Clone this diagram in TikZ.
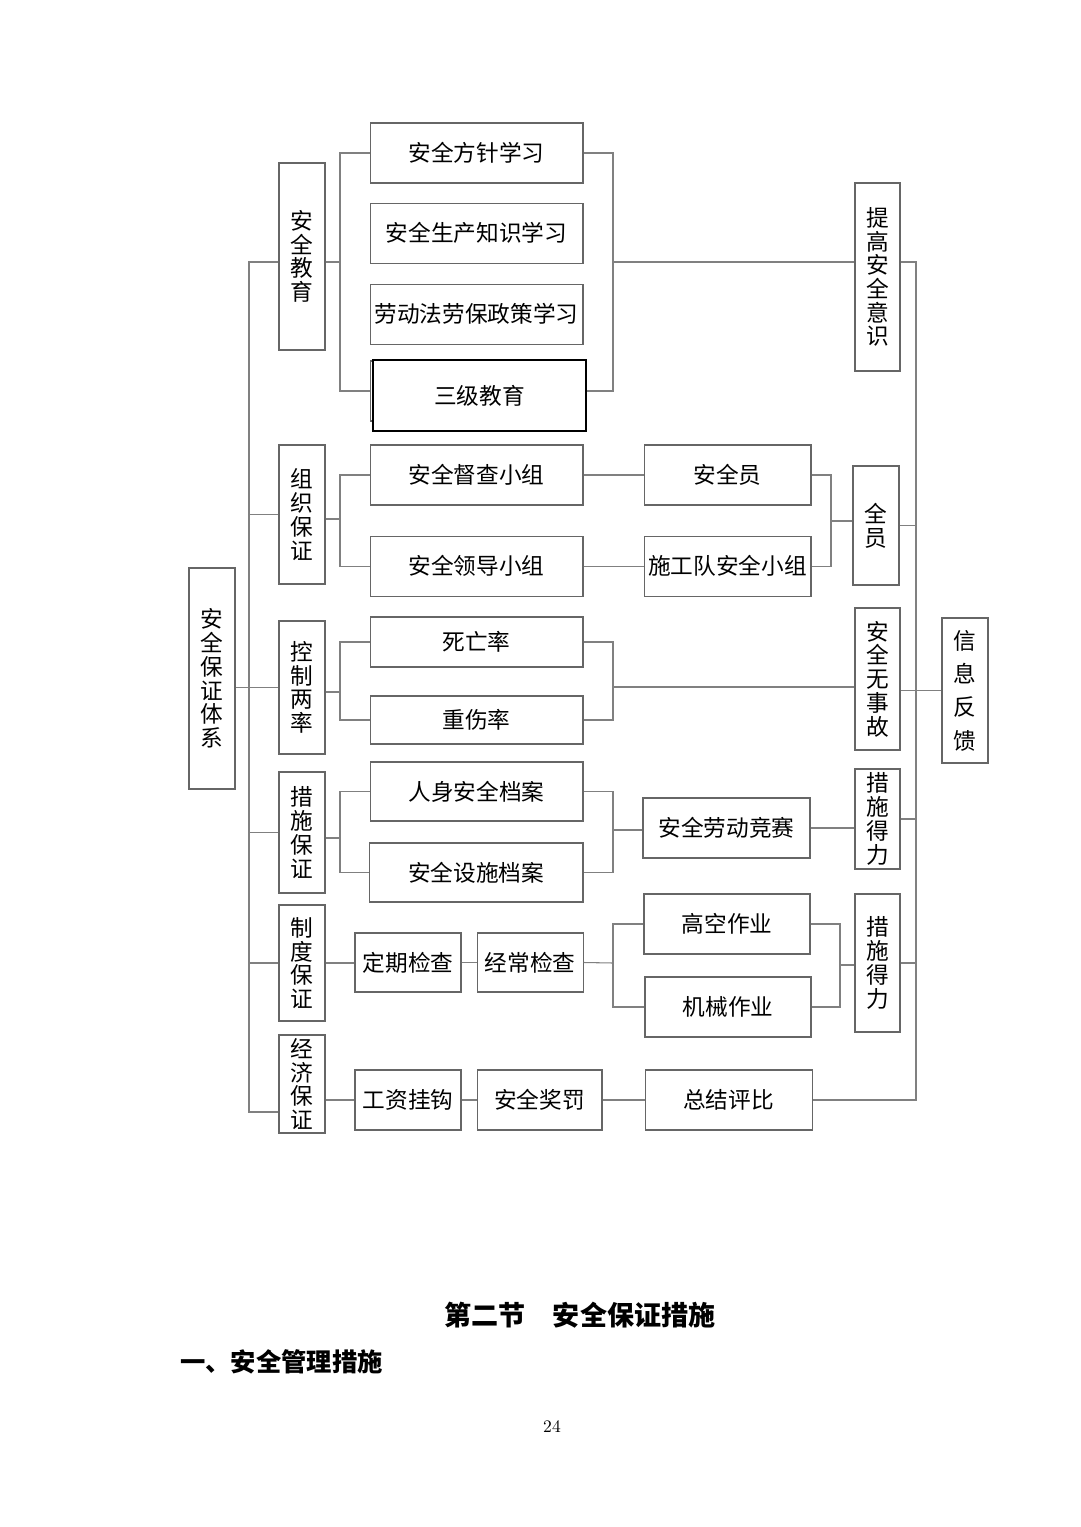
\documentclass[tikz,border=0pt]{standalone}
\usepackage{fontspec}
\newfontfamily\cjk{Noto Sans CJK SC}
\usepackage{tikz}
\usetikzlibrary{positioning, calc}
\tikzset{
  hbox/.style={rectangle, draw=black!60, line width=0.6pt, inner sep=0pt, minimum width=4.26cm, minimum height=1.2cm, text centered, font=\cjk\fontsize{12.9pt}{13.5pt}\selectfont},
  vbox/.style={hbox, minimum width=0.92cm, align=center},
  thickbox/.style={hbox, draw=black, line width=1.2pt, fill=white},
  link/.style={draw=black!50, line width=0.6pt}
}

\begin{document}
\begin{tikzpicture}[x=0.02cm, y=-0.02cm]
        \fill[white] (0,0) rectangle (1080,1527);

        % 根节点与分类
        \node (root) [vbox, minimum height=4.42cm] at (212,678.5) {安\\全\\保\\证\\体\\系};
        \node (edu) [vbox, minimum height=3.74cm] at (302,256.5) {安\\全\\教\\育};
        \node (org) [vbox, minimum height=2.78cm] at (302,514.5) {组\\织\\保\\证};
        \node (ctrl) [vbox, minimum height=2.66cm] at (302,687.5) {控\\制\\两\\率};
        \node (meas) [vbox, minimum height=2.42cm] at (302,832.5) {措\\施\\保\\证};
        \node (sys) [vbox, minimum height=2.32cm] at (302,963) {制\\度\\保\\证};
        \node (econ) [vbox, minimum height=1.96cm] at (302,1084) {经\\济\\保\\证};

        % 安全教育
        \node (edu1) [hbox] at (476.5,153) {安全方针学习};
        \node (edu2) [hbox, below=0.38cm of edu1] {安全生产知识学习};
        \node (edu3) [hbox, below=0.4cm of edu2] {劳动法劳保政策学习};
        \node (edu4b) [hbox] at (476.5,391) {};
        \node (edu4) [thickbox, minimum height=1.42cm] at (479.5,395.5) {三级教育};
        \node (aware) [vbox, minimum width=0.9cm, minimum height=3.76cm] at (877.5,277) {提\\高\\安\\全\\意\\识};

        % 组织保证
        \node (org1) [hbox] at (476.5,475) {安全督查小组};
        \node (org2) [hbox, below=0.6cm of org1] {安全领导小组};
        \node (safe) [hbox, minimum width=3.34cm, right=1.2cm of org1] {安全员};
        \node (team) [hbox, minimum width=3.34cm, right=1.2cm of org2] {施工队安全小组};
        \node (all) [vbox, minimum height=2.38cm] at (876,525.5) {全\\员};

        % 控制两率
        \node (ctrl1) [hbox, minimum height=1.0cm] at (476.5,642) {死亡率};
        \node (ctrl2) [hbox, minimum height=0.96cm] at (476.5,720) {重伤率};
        \node (noacc) [vbox, minimum width=0.9cm, minimum height=2.84cm] at (877.5,679) {安\\全\\无\\事\\故};
        \node (info) [vbox, minimum height=2.9cm, font=\cjk\fontsize{12.9pt}{19pt}\selectfont] at (965,690.5) {信\\息\\反\\馈};

        % 措施保证
        \node (meas1) [hbox, minimum height=1.18cm] at (476.5,791.5) {人身安全档案};
        \node (meas2) [hbox, minimum width=4.28cm, minimum height=1.18cm] at (476,872.5) {安全设施档案};
        \node (contest) [hbox, minimum width=3.34cm] at (726.5,828) {安全劳动竞赛};
        \node (eff1) [vbox, minimum width=0.9cm, minimum height=2.0cm] at (877.5,819) {措\\施\\得\\力};

        % 制度保证
        \node (check1) [hbox, minimum width=2.12cm, minimum height=1.18cm] at (408,962.5) {定期检查};
        \node (check2) [hbox, minimum width=2.12cm, minimum height=1.18cm, right=0.3cm of check1] {经常检查};
        \node (high) [hbox, minimum width=3.32cm] at (727,924) {高空作业};
        \node (mech) [hbox, minimum width=3.32cm] at (728,1007) {机械作业};
        \node (eff2) [vbox, minimum width=0.9cm, minimum height=2.76cm] at (877.5,963) {措\\施\\得\\力};

        % 经济保证
        \node (wage) [hbox, minimum width=2.12cm] at (408,1100) {工资挂钩};
        \node (reward) [hbox, minimum width=2.5cm, right=0.3cm of wage] {安全奖罚};
        \node (sum) [hbox, minimum width=3.34cm, right=0.84cm of reward] {总结评比};

        % 连接点
        \coordinate (busL1) at (249,262);
        \coordinate (busL2) at (249,1112);
        \coordinate (busT) at (916,262);
        \coordinate (busB) at (916,1100);
        \coordinate (eduL) at (340,262);
        \coordinate (eduR) at (613,262);
        \coordinate (orgL) at (340,519);
        \coordinate (orgR) at (831,521);
        \coordinate (ctrlL) at (340,692);
        \coordinate (ctrlR) at (613,687);
        \coordinate (measL) at (340,838);
        \coordinate (measR) at (613,830);
        \coordinate (sysR) at (613,963);
        \coordinate (sysR2) at (840,965);

        % 左侧总线
        \draw [link] (edu.west |- busL1) -- (busL1) -- (busL2) -- (econ.west |- busL2);
        \draw [link] (root.east |- ctrl.west) -- (ctrl.west);
        \draw [link] (org.west) -- (org.west -| busL1);
        \draw [link] (meas.west) -- (meas.west -| busL1);
        \draw [link] (sys.west) -- (sys.west -| busL1);

        % 右侧总线
        \draw [link] (aware.east |- busT) -- (busT) |- (sum.east);
        \draw [link] (all.east) -- (all.east -| busT);
        \draw [link] (noacc.east |- info.west) -- (info.west);
        \draw [link] (eff1.east) -- (eff1.east -| busT);
        \draw [link] (eff2.east) -- (eff2.east -| busT);

        % 安全教育连线
        \draw [link] (edu.east |- eduL) -- (eduL);
        \draw [link] (edu1.west) -| (eduL) |- (edu4b.west);
        \draw [link] (edu1.east) -| (eduR) |- (edu4.east |- edu4b.east);
        \draw [link] (eduR) -- (aware.west |- eduR);

        % 组织保证连线
        \draw [link] (org.east |- orgL) -- (orgL);
        \draw [link] (org1.west) -| (orgL) |- (org2.west);
        \draw [link] (org1) -- (safe);
        \draw [link] (org2) -- (team);
        \draw [link] (safe.east) -| (orgR) |- (team.east);
        \draw [link] (orgR) -- (all.west |- orgR);

        % 控制两率连线
        \draw [link] (ctrl.east |- ctrlL) -- (ctrlL);
        \draw [link] (ctrl1.west) -| (ctrlL) |- (ctrl2.west);
        \draw [link] (ctrl1.east) -| (ctrlR) |- (ctrl2.east);
        \draw [link] (ctrlR) -- (noacc.west |- ctrlR);

        % 措施保证连线
        \draw [link] (meas.east |- measL) -- (measL);
        \draw [link] (meas1.west) -| (measL) |- (meas2.west);
        \draw [link] (meas1.east) -| (measR) |- (meas2.east);
        \draw [link] (measR) -- (contest.west |- measR);
        \draw [link] (contest) -- (eff1.west |- contest);

        % 制度保证连线
        \draw [link] (sys.east) -- (sys.east -| check1.west);
        \draw [link] (check1) -- (check2);
        \draw [link] (check2.east) -- (sysR);
        \draw [link] (high.west) -| (sysR) |- (mech.west);
        \draw [link] (high.east) -| (sysR2) |- (mech.east);
        \draw [link] (sysR2) -- (eff2.west |- sysR2);

        % 经济保证连线
        \draw [link] (econ.east |- wage.west) -- (wage.west);
        \draw [link] (wage) -- (reward);
        \draw [link] (reward) -- (sum);

        % 正文
        \node (sec) at (580,1315) {\cjk\bfseries\fontsize{15.4pt}{16pt}\selectfont 第二节　安全保证措施};
        \node (sub) [anchor=west, inner sep=0pt] at (180,1362) {\cjk\bfseries\fontsize{14.4pt}{15pt}\selectfont 一、安全管理措施};
        \node (page) at (552,1427) {\fontsize{10pt}{12pt}\selectfont 24};

    \end{tikzpicture}
\end{document}
